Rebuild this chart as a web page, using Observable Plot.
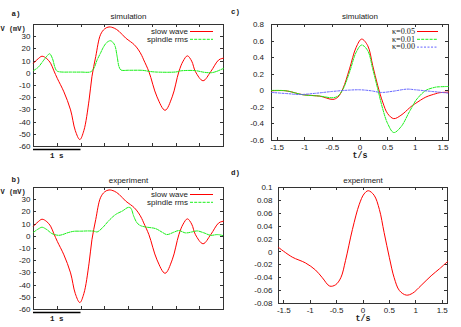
<!DOCTYPE html>
<html><head><meta charset="utf-8">
<script src="https://cdn.jsdelivr.net/npm/d3@7"></script>
<script src="https://cdn.jsdelivr.net/npm/@observablehq/plot@0.6"></script>
<style>
body{margin:0;background:#fff}
#wrap{position:relative;width:461px;height:327px;overflow:hidden;background:#fff}
</style></head><body><div id="wrap"></div><script>
// ---------------- data ----------------
// panels a, b : slow wave (mV) vs time (s)
const tSlow = [0,0.1,0.18,0.28,0.36,0.43,0.5,0.64,0.78,0.88,0.975,1.06,1.17,1.23,1.31,1.41,1.5,1.59,1.7,1.8,1.94,2.04,2.12,2.21,2.28,2.32,2.43,2.6,2.77,2.92,3.06,3.15,3.24,3.33,3.41,3.57,3.73,3.9,4.0];
const slowWave = [8.3,12,14,12,8.3,2,-4.1,-15.2,-30,-47,-54.3,-47,-22,-2.8,13.7,31.6,36.5,38,37,34.4,28.9,26,23.5,19.2,14.5,11,1.3,-19.3,-30.3,-19.3,1.3,10,14.3,10,1.3,-6.1,1.3,11,12.4];
// panel a : spindle rms (simulation)
const tSpSim = [0,0.1,0.2,0.28,0.34,0.4,0.45,0.49,0.55,0.8,1.0,1.2,1.27,1.34,1.41,1.48,1.55,1.62,1.68,1.72,1.76,1.8,1.84,2.0,2.3,2.45,2.6,3.0,3.1,3.4,3.6,3.75,3.85,4.0];
const spindleSim = [2.2,5,10,14,16,12,5,2,1.2,1,1,1.2,4,11,16.5,22,25.5,26.7,25,22,14,5.5,2.7,2.5,2.4,1.5,1,1.1,2,2.2,0.8,0.5,1.5,4];
// panel b : spindle rms (experiment)
const tSpExp = [0,0.1,0.18,0.28,0.39,0.53,0.62,0.71,0.85,1.0,1.15,1.27,1.34,1.45,1.59,1.73,1.87,2.0,2.05,2.11,2.18,2.25,2.35,2.57,2.71,2.81,2.95,3.06,3.2,3.34,3.45,3.59,3.73,3.87,4.0];
const spindleExp = [3.3,6,7.4,5.5,2.2,0.8,1.5,2.8,4.1,4.2,4.4,4.2,3.6,6.9,13,17.9,20.7,23.8,23,16.5,11,8.8,7.7,6.3,3.3,1.4,3.3,4.7,2.8,3.6,4.4,2.8,0.8,1.4,0.5];
// panel c : simulation, t/s
const tC = [-1.6,-1.34,-1.03,-0.73,-0.49,-0.4,-0.31,-0.19,-0.07,0.03,0.14,0.23,0.32,0.41,0.5,0.61,0.74,0.89,0.95,1.01,1.19,1.37,1.43,1.6];
const kappa005 = [0,0,-0.048,-0.064,-0.104,-0.076,0.024,0.264,0.524,0.624,0.544,0.304,0.064,-0.136,-0.276,-0.336,-0.296,-0.21,-0.176,-0.15,-0.076,-0.035,-0.024,-0.016];
const kappa001 = [0.004,0,-0.048,-0.064,-0.084,-0.064,0.016,0.224,0.464,0.552,0.484,0.264,0.024,-0.216,-0.396,-0.504,-0.436,-0.256,-0.186,-0.116,0.004,0.044,0.048,0.052];
const tC0 = [-1.6,-1.3,-1.1,-0.8,-0.5,-0.2,0,0.2,0.38,0.6,0.85,1.0,1.3,1.6];
const kappa000 = [-0.02,-0.035,-0.045,-0.03,-0.008,0.008,0.012,0,-0.02,-0.005,0.02,0.012,-0.008,-0.028];
// panel d : experiment, t/s
const tD = [-1.6,-1.34,-1.09,-0.9,-0.77,-0.63,-0.52,-0.42,-0.33,-0.2,-0.07,0.02,0.1,0.21,0.31,0.4,0.5,0.59,0.69,0.82,0.94,1.1,1.29,1.45,1.6];
const expD = [0.007,-0.008,-0.017,-0.028,-0.04,-0.053,-0.051,-0.04,-0.013,0.035,0.074,0.09,0.095,0.088,0.066,0.03,-0.009,-0.04,-0.06,-0.067,-0.064,-0.052,-0.037,-0.026,-0.015];

// tick values
const xTicksAB = [0.5,1,1.5,2,2.5,3,3.5];
const yTicksAB = [30,20,10,0,-10,-20,-30,-40,-50,-60];
const xTicksCD = [-1.5,-1,-0.5,0,0.5,1,1.5];
const yTicksC = [0.8,0.6,0.4,0.2,0,-0.2,-0.4,-0.6];
const yTicksD = [0.1,0.08,0.06,0.04,0.02,0,-0.02,-0.04,-0.06,-0.08];

const legendAB = ["slow wave","spindle rms"];
const legendC = ["κ=0.05","κ=0.01","κ=0.00"];

// ---------------- helpers ----------------
const SANS = "'Liberation Sans', Arial, Helvetica, sans-serif";
const MONO = "'Liberation Mono', 'Courier New', monospace";
const SERIF = "'Liberation Serif', 'Times New Roman', serif";
const RED = "#ff0000", GREEN = "#19f019", BLUE = "#6464ff";
const GREEN_DASH = "3,1.2", BLUE_DASH = "2,1.5";
const INK = "#1a1a1a";

const rows = (t, v) => t.map((x, i) => ({t: x, v: v[i]}));

function deco(draw) {
  return (index, scales, values, dim) => {
    const g = d3.create("svg:g");
    draw(g, scales, dim);
    return g.node();
  };
}

function innerTicks(xt, yt, len = 3) {
  return deco((g, s, d) => {
    const x0 = d.marginLeft, x1 = d.width - d.marginRight;
    const y0 = d.marginTop, y1 = d.height - d.marginBottom;
    const seg = (a, b, c, e) => g.append("line").attr("x1", a).attr("y1", b).attr("x2", c).attr("y2", e)
      .attr("stroke", "#333").attr("stroke-width", 1);
    for (const t of xt) { const x = Math.round(s.x(t)) + 0.5; seg(x, y1, x, y1 - len); seg(x, y0, x, y0 + len); }
    for (const v of yt) { const y = Math.round(s.y(v)) + 0.5; seg(x0, y, x0 + len, y); seg(x1, y, x1 - len, y); }
  });
}

function legendMark(labels, colors, dashes, o) {
  return deco((g, s, d) => {
    const xr = d.width - d.marginRight, yt = d.marginTop;
    labels.forEach((lab, i) => {
      const y = yt + o.y0 + i * o.dy;
      g.append("text").attr("x", xr - o.textRight).attr("y", y).attr("dy", "0.35em")
        .attr("text-anchor", "end").attr("font-family", o.font).attr("font-size", o.size).attr("fill", INK).text(lab);
      g.append("line").attr("x1", xr - o.l1).attr("x2", xr - o.l2).attr("y1", y + 0.5).attr("y2", y + 0.5)
        .attr("stroke", colors[i]).attr("stroke-width", 1).attr("stroke-dasharray", dashes[i] || null);
    });
  });
}

function scaleBar() {
  return deco((g, s, d) => {
    const yb = d.height - d.marginBottom;
    g.append("line").attr("x1", s.x(0)).attr("x2", s.x(1)).attr("y1", yb + 3.5).attr("y2", yb + 3.5)
      .attr("stroke", "#000").attr("stroke-width", 1.3);
    g.append("text").attr("x", s.x(0.5)).attr("y", yb + 9.5).attr("dy", "0.35em").attr("text-anchor", "middle")
      .attr("font-family", MONO).attr("font-weight", "bold").attr("font-size", 7.5).attr("fill", INK).text("1 s");
  });
}

function place(svg, left, top) {
  svg.style.position = "absolute";
  svg.style.left = left + "px";
  svg.style.top = top + "px";
  document.getElementById("wrap").appendChild(svg);
}

const baseStyle = {fontFamily: SANS, fontSize: "8px", background: "transparent", overflow: "visible", maxWidth: "none", color: INK};

// ---------------- panels a, b ----------------
function panelAB(cfg) {
  return Plot.plot({
    width: 230, height: cfg.height,
    marginTop: 24, marginLeft: 33, marginRight: 7, marginBottom: cfg.height - 146,
    x: {domain: [0, 4], axis: null},
    y: {domain: [-60, 40]},
    style: baseStyle,
    marks: [
      Plot.frame({stroke: "#333"}),
      innerTicks(xTicksAB, yTicksAB),
      Plot.axisY({ticks: yTicksAB, tickSize: 0, tickPadding: 3, tickFormat: d => String(d), fontSize: 8, label: null}),
      Plot.line(rows(tSlow, slowWave), {x: "t", y: "v", stroke: RED, strokeWidth: 1, curve: "catmull-rom"}),
      Plot.line(rows(cfg.tSp, cfg.sp), {x: "t", y: "v", stroke: GREEN, strokeWidth: 1, strokeDasharray: GREEN_DASH, curve: "catmull-rom"}),
      legendMark(legendAB, [RED, GREEN], [null, GREEN_DASH], {y0: 7, dy: 7.8, textRight: 35, l1: 33, l2: 10, font: SANS, size: 8}),
      scaleBar(),
      Plot.text([cfg.title], {frameAnchor: "top", dy: cfg.titleY - 24, fontSize: 8}),
      Plot.text([cfg.tag], {frameAnchor: "top-left", dx: -22, dy: cfg.tagY - 24, textAnchor: "start", fontFamily: MONO, fontWeight: "bold", fontSize: 7.5}),
      Plot.text(["V (mV)"], {frameAnchor: "top-left", dx: -33, dy: 1.6, textAnchor: "start", fontFamily: MONO, fontWeight: "bold", fontSize: 7})
    ]
  });
}

place(panelAB({height: 163, tSp: tSpSim, sp: spindleSim, title: "simulation", tag: "a)", titleY: 12.7, tagY: 10}), 0, 0);
place(panelAB({height: 164, tSp: tSpExp, sp: spindleExp, title: "experiment", tag: "b)", titleY: 14, tagY: 13.3}), 0, 163);

// ---------------- panels c, d ----------------
function panelCD(cfg) {
  return Plot.plot({
    width: 231, height: cfg.height,
    marginTop: 24, marginLeft: cfg.ml, marginRight: cfg.mr, marginBottom: cfg.mb,
    x: {domain: [-1.6, 1.6]},
    y: {domain: cfg.yDomain},
    style: baseStyle,
    marks: [
      Plot.frame({stroke: "#333"}),
      innerTicks(xTicksCD, cfg.yTicks),
      Plot.axisY({ticks: cfg.yTicks, tickSize: 0, tickPadding: cfg.yPad, tickFormat: d => String(d), fontSize: 8, label: null}),
      Plot.axisX({ticks: xTicksCD, tickSize: 0, tickPadding: 3.5, tickFormat: d => String(d), fontSize: 8, label: null}),
      ...cfg.lines,
      ...(cfg.legend ? [cfg.legend] : []),
      Plot.text(["t/s"], {frameAnchor: "bottom", dy: 17, fontFamily: MONO, fontWeight: "bold", fontSize: 8.3}),
      Plot.text([cfg.title], {frameAnchor: "top", dy: cfg.titleY - 24, fontSize: 8}),
      Plot.text([cfg.tag], {frameAnchor: "top-left", dx: -cfg.ml + 0.5, dy: cfg.tagY - 24, textAnchor: "start", fontFamily: MONO, fontWeight: "bold", fontSize: 7.5})
    ]
  });
}

place(panelCD({
  height: 163, ml: 41, mr: 13, mb: 23, yDomain: [-0.6, 0.8], yTicks: yTicksC, yPad: 7.5,
  title: "simulation", tag: "c)", titleY: 12.7, tagY: 8.5,
  lines: [
    Plot.line(rows(tC, kappa005), {x: "t", y: "v", stroke: RED, strokeWidth: 1, curve: "catmull-rom"}),
    Plot.line(rows(tC, kappa001), {x: "t", y: "v", stroke: GREEN, strokeWidth: 1, strokeDasharray: GREEN_DASH, curve: "catmull-rom"}),
    Plot.line(rows(tC0, kappa000), {x: "t", y: "v", stroke: BLUE, strokeWidth: 1, strokeDasharray: BLUE_DASH, curve: "catmull-rom"})
  ],
  legend: legendMark(legendC, [RED, GREEN, BLUE], [null, GREEN_DASH, BLUE_DASH], {y0: 7, dy: 7.8, textRight: 33, l1: 31, l2: 10, font: SERIF, size: 8.2})
}), 230, 0);

place(panelCD({
  height: 164, ml: 48, mr: 14, mb: 24, yDomain: [-0.08, 0.1], yTicks: yTicksD, yPad: 6,
  title: "experiment", tag: "d)", titleY: 14, tagY: 6,
  lines: [
    Plot.line(rows(tD, expD), {x: "t", y: "v", stroke: RED, strokeWidth: 1, curve: "catmull-rom"})
  ]
}), 230, 163);
</script></body></html>
